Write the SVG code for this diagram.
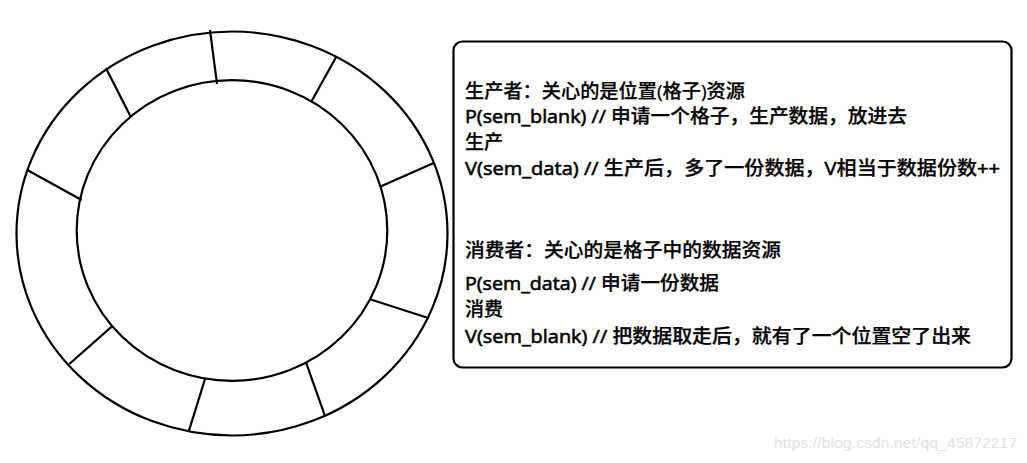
<svg xmlns="http://www.w3.org/2000/svg" width="1027" height="463" viewBox="0 0 1027 463">
<style>
.ln{fill:none;stroke:#000;stroke-width:2.2}
.t{font-family:"Open Sans","Noto Sans CJK SC",sans-serif;font-size:19px;font-weight:500;fill:#000;stroke:#000;stroke-width:0.25}
.la{stroke-width:0.6}
.wm{font-family:"Liberation Sans",Arial,sans-serif;font-size:15.5px;fill:#e2e2e2}
</style>
<rect width="1027" height="463" fill="#fff"/>
<g id="ring">
<ellipse class="ln" cx="232" cy="233.5" rx="215.5" ry="202"/>
<ellipse class="ln" cx="232" cy="230.5" rx="155.3" ry="150.3"/>
</g>
<g id="connectors">
<line class="ln" x1="210" y1="30" x2="217" y2="84"/>
<line class="ln" x1="336.7" y1="56" x2="311.7" y2="101"/>
<line class="ln" x1="434.3" y1="162.7" x2="380" y2="186.7"/>
<line class="ln" x1="429" y1="318.3" x2="370" y2="299.3"/>
<line class="ln" x1="325" y1="416" x2="306" y2="362.3"/>
<line class="ln" x1="189" y1="430.7" x2="205" y2="379"/>
<line class="ln" x1="69.3" y1="364" x2="111.7" y2="326.7"/>
<line class="ln" x1="27.3" y1="170" x2="81.7" y2="200"/>
<line class="ln" x1="106" y1="68.3" x2="130.7" y2="116.7"/>
</g>
<g id="note">
<rect class="ln" x="453.5" y="41.5" width="558" height="326" rx="9"/>
<text class="t" x="465" y="97.5" textLength="280" lengthAdjust="spacingAndGlyphs">生产者：关心的是位置(格子)资源</text>
<text class="t" x="465" y="123" textLength="442" lengthAdjust="spacingAndGlyphs"><tspan class="la">P(sem_blank) //</tspan> 申请一个格子，生产数据，放进去</text>
<text class="t" x="465" y="149">生产</text>
<text class="t" x="465" y="175" textLength="535" lengthAdjust="spacingAndGlyphs"><tspan class="la">V(sem_data) //</tspan> 生产后，多了一份数据，<tspan class="la">V</tspan>相当于数据份数<tspan class="la">++</tspan></text>
<text class="t" x="465" y="257" textLength="316" lengthAdjust="spacingAndGlyphs">消费者：关心的是格子中的数据资源</text>
<text class="t" x="465" y="290" textLength="254" lengthAdjust="spacingAndGlyphs"><tspan class="la">P(sem_data) //</tspan> 申请一份数据</text>
<text class="t" x="465" y="316">消费</text>
<text class="t" x="465" y="343" textLength="506" lengthAdjust="spacingAndGlyphs"><tspan class="la">V(sem_blank) //</tspan> 把数据取走后，就有了一个位置空了出来</text>
</g>
<text class="wm" x="774" y="448" textLength="243">https://blog.csdn.net/qq_45872217</text>
</svg>
